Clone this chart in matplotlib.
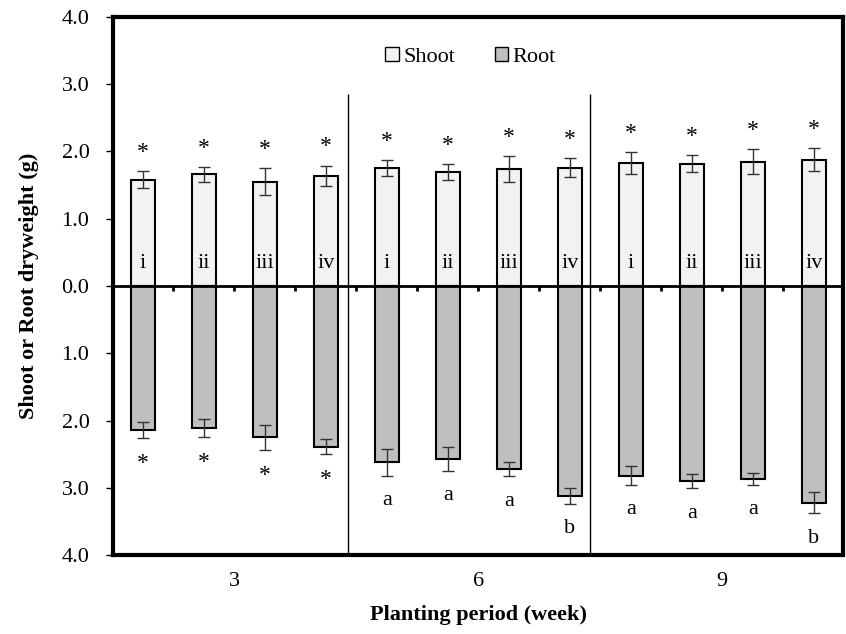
import numpy as np
import matplotlib
matplotlib.use("Agg")
import matplotlib.pyplot as plt
from matplotlib.patches import Patch
from matplotlib.ticker import FuncFormatter

plt.rcParams["font.family"] = ["Liberation Serif", "DejaVu Serif"]

# Dry weight per treatment (i-iv) for each planting period
weeks = ["3", "6", "9"]
treatments = ["i", "ii", "iii", "iv"] * 3
shoot = [1.58, 1.66, 1.55, 1.64, 1.75, 1.69, 1.74, 1.76, 1.83, 1.82, 1.85, 1.88]
shoot_err = [0.13, 0.11, 0.20, 0.15, 0.12, 0.12, 0.19, 0.14, 0.16, 0.13, 0.18, 0.17]
root = [2.14, 2.11, 2.25, 2.39, 2.62, 2.57, 2.72, 3.12, 2.82, 2.90, 2.87, 3.22]
root_err = [0.12, 0.13, 0.19, 0.11, 0.20, 0.18, 0.11, 0.12, 0.14, 0.11, 0.09, 0.16]
shoot_marks = ["*"] * 12
root_marks = ["*"] * 4 + ["a", "a", "a", "b", "a", "a", "a", "b"]

x = np.arange(len(shoot))
shoot = np.array(shoot)
root = np.array(root)
shoot_err = np.array(shoot_err)
root_err = np.array(root_err)

fig = plt.figure(figsize=(8.46, 6.34), dpi=100)
ax = fig.add_axes([0.1336, 0.1246, 0.8629, 0.8486])

w = 0.4
ax.bar(x, shoot, w, color="#f2f2f2", edgecolor="black", linewidth=1.5, zorder=2)
ax.bar(x, -root, w, color="#bfbfbf", edgecolor="black", linewidth=1.5, zorder=2)
ax.errorbar(x, shoot, yerr=shoot_err, fmt="none", ecolor="#333333",
            elinewidth=1, capsize=4, capthick=1, zorder=3)
ax.errorbar(x, -root, yerr=root_err, fmt="none", ecolor="#333333",
            elinewidth=1, capsize=4, capthick=1, zorder=3)

# zero line with small ticks between bars
ax.axhline(0, color="black", linewidth=2, zorder=4)
ax.vlines(x[:-1] + 0.5, -0.08, 0, color="black", linewidth=2, zorder=4)

# separators between planting periods
ax.vlines([3.36, 7.33], -4, 2.85, color="black", linewidth=1, zorder=1)

for xi, s, se, r, re, t, sm, rm in zip(x, shoot, shoot_err, root, root_err,
                                        treatments, shoot_marks, root_marks):
    ax.text(xi, 0.34, t, ha="center", va="center", fontsize=16, zorder=5)
    ax.text(xi, s + se + 0.28, sm, ha="center", va="center", fontsize=17)
    if rm == "*":
        ax.text(xi, -(r + re + 0.38), rm, ha="center", va="center", fontsize=17)
    else:
        ax.text(xi, -(r + re + 0.37), rm, ha="center", va="center", fontsize=16)

ax.set_xlim(-0.49, 11.48)
ax.set_ylim(-4, 4)
ax.set_yticks(np.arange(-4, 4.1, 1))
ax.yaxis.set_major_formatter(FuncFormatter(lambda v, p: f"{abs(v):.1f}"))
ax.tick_params(axis="y", direction="out", length=5, width=1, labelsize=16, pad=12)

ax.set_xticks([1.5, 5.5, 9.5])
ax.set_xticklabels(weeks)
ax.tick_params(axis="x", length=0, labelsize=16, pad=12)

for sp in ax.spines.values():
    sp.set_linewidth(3)

ax.set_xlabel("Planting period (week)", fontsize=16, fontweight="bold", labelpad=10)
ax.set_ylabel("Shoot or Root dryweight (g)", fontsize=16, fontweight="bold", labelpad=16)

handles = [Patch(facecolor="#f2f2f2", edgecolor="black", label="Shoot"),
           Patch(facecolor="#bfbfbf", edgecolor="black", label="Root")]
ax.legend(handles=handles, loc="center", bbox_to_anchor=(0.49, 0.926), ncol=2,
          frameon=False, fontsize=16, handlelength=0.6, handleheight=0.6,
          handletextpad=0.2, columnspacing=1.8)

fig.savefig("out.png", dpi=100)
